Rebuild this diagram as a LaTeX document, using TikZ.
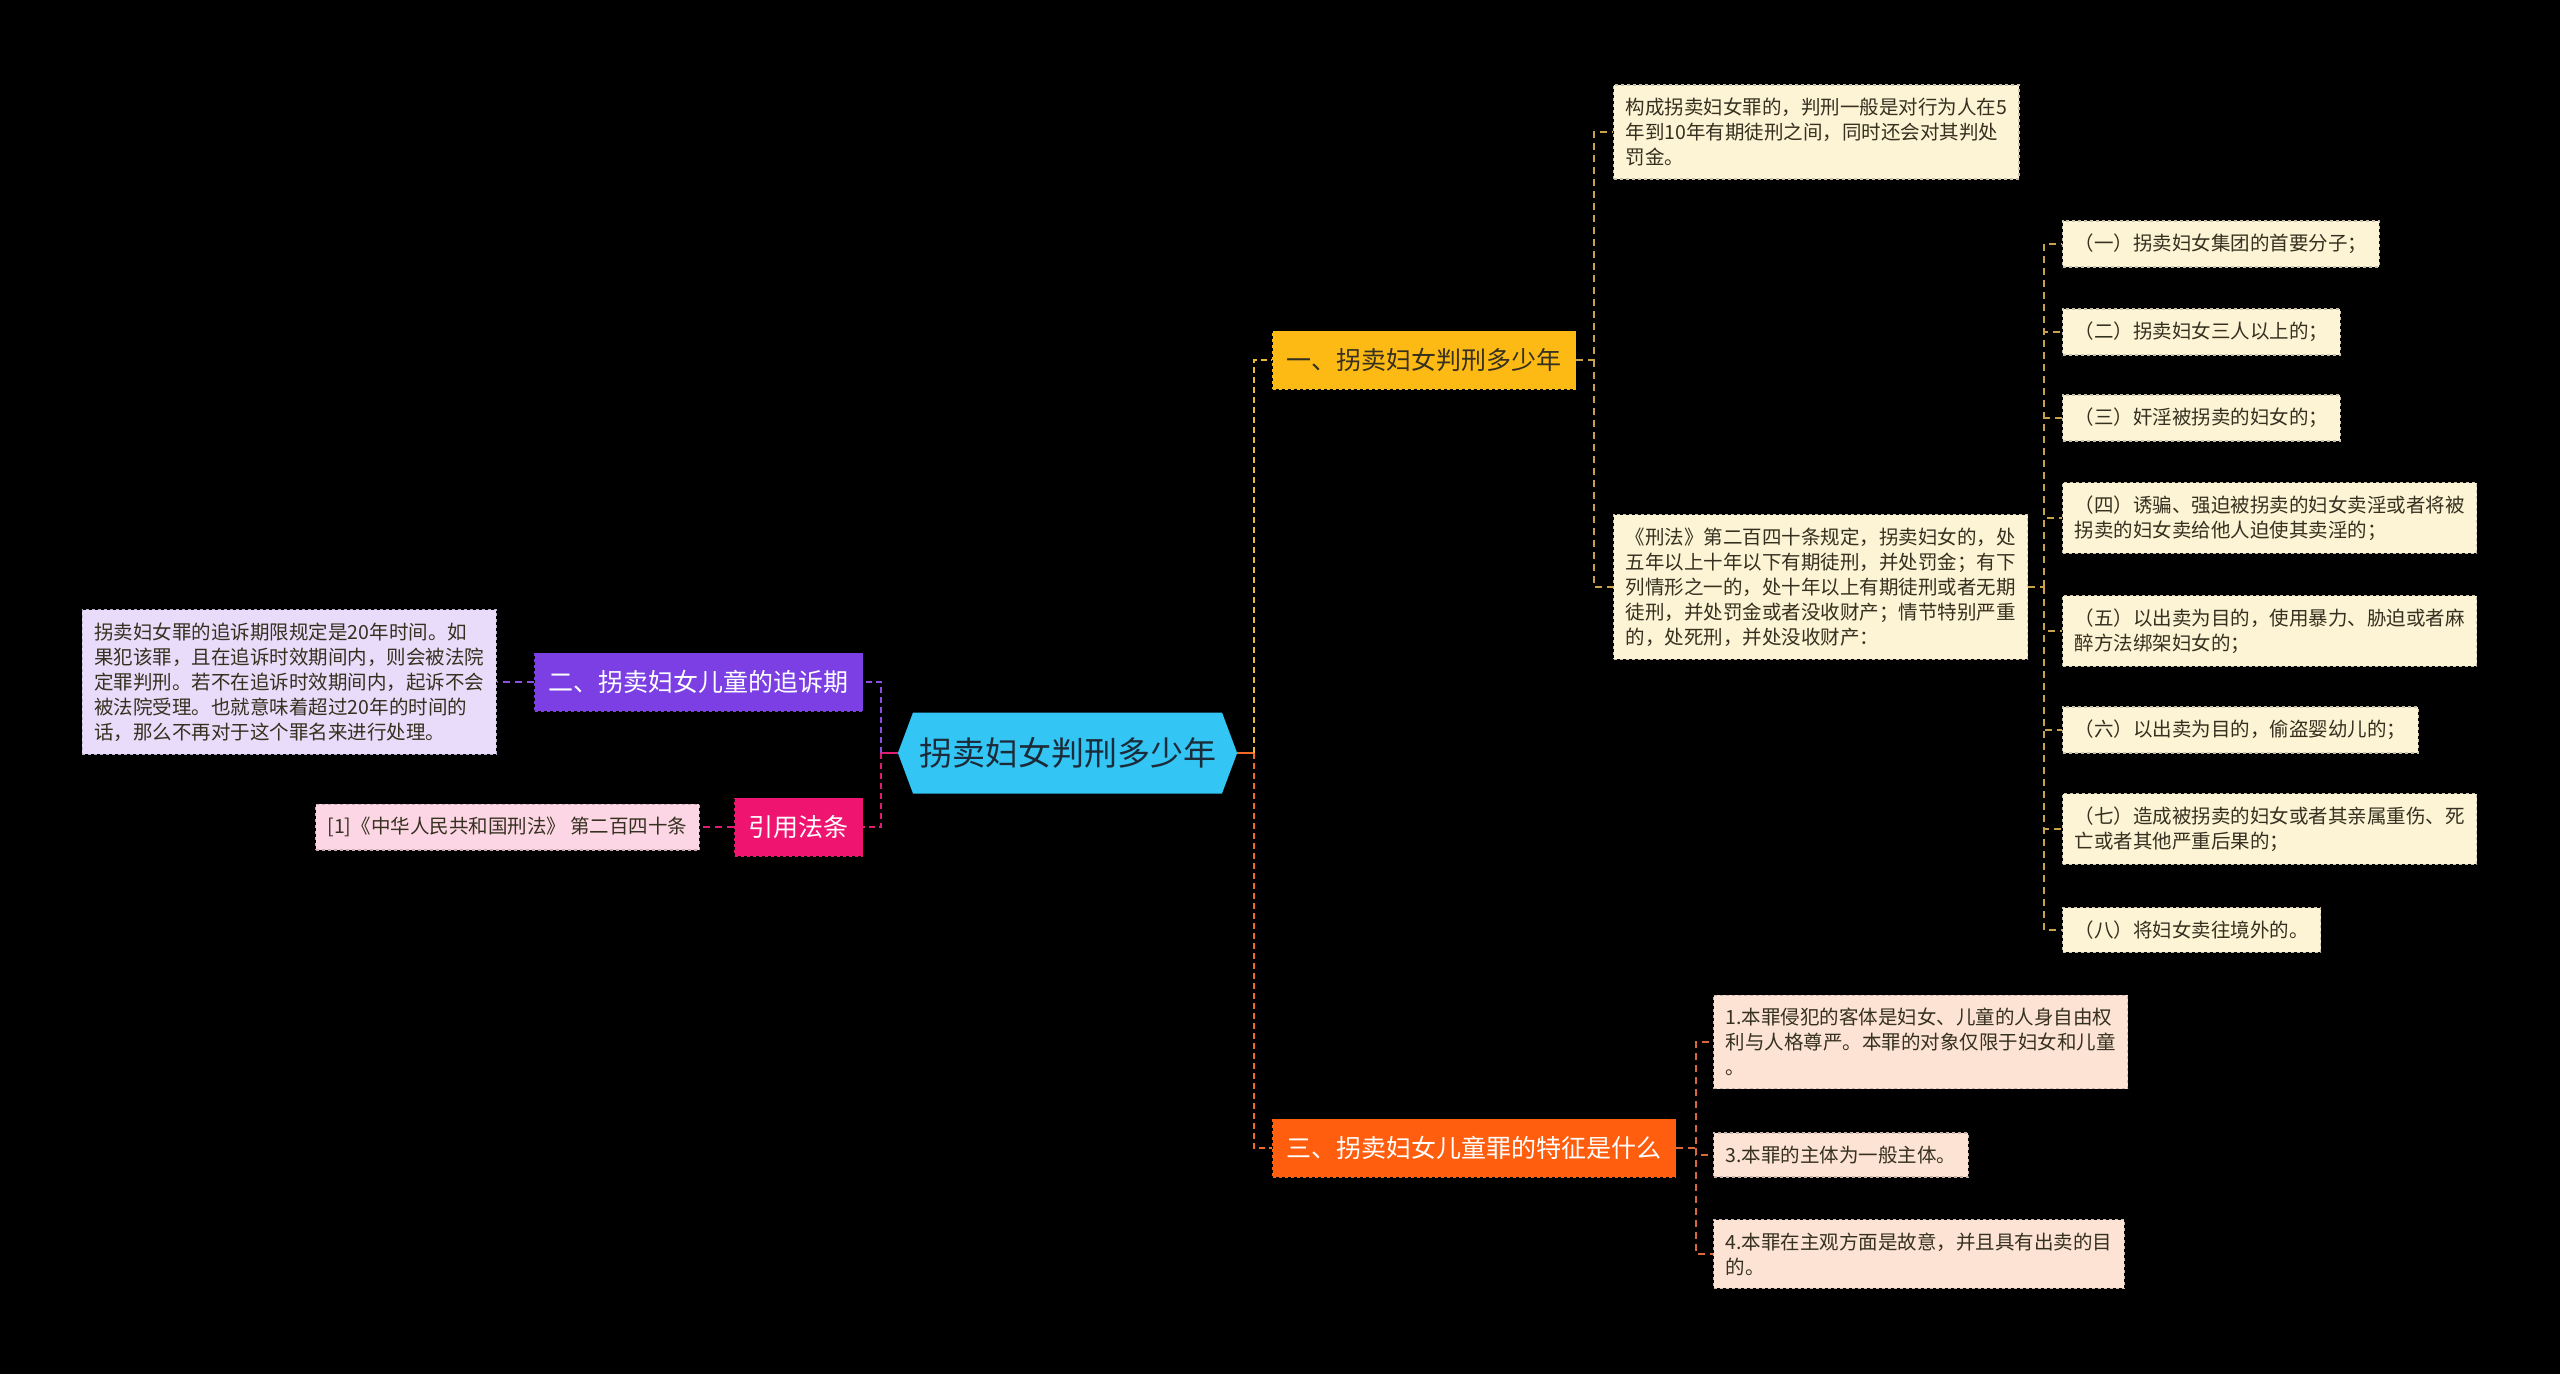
\documentclass[tikz,border=0pt]{standalone}
\usepackage{fontspec}
\setmainfont{Noto Sans CJK SC}
\usetikzlibrary{shapes.symbols}

\definecolor{rootblue}{HTML}{33C5F3}
\definecolor{roottext}{HTML}{1C2B39}
\definecolor{goldbr}{HTML}{FDBA14}
\definecolor{orangebr}{HTML}{FF5E0E}
\definecolor{purplebr}{HTML}{7B3FE4}
\definecolor{pinkbr}{HTML}{EE1470}
\definecolor{creamleaf}{HTML}{FDF3D5}
\definecolor{peachleaf}{HTML}{FDE3D4}
\definecolor{lavleaf}{HTML}{E9DCFA}
\definecolor{pinkleaf}{HTML}{FDD6E5}
\definecolor{leaftext}{HTML}{35301F}
\definecolor{goldline}{HTML}{EBBB36}
\definecolor{orangeline}{HTML}{F06A25}
\definecolor{tanline}{HTML}{C9A24A}
\definecolor{rustline}{HTML}{D9683A}
\definecolor{violetline}{HTML}{8B4FE6}
\definecolor{magline}{HTML}{DD1F72}

\begin{document}
\begin{tikzpicture}[x=1pt, y=-1pt,
  rootnode/.style={signal, signal to=west and east, signal pointer angle=139,
    fill=rootblue, text=roottext, minimum height=81pt, inner xsep=6pt,
    font=\fontsize{33}{40}\selectfont},
  branch/.style={fill=#1, draw=#1, dashed, line width=1pt, minimum height=58pt,
    inner xsep=14pt, inner ysep=0pt, font=\fontsize{25}{30}\selectfont},
  leaf/.style={fill=#1, draw=#1!80!black, dashed, line width=1.2pt, align=left,
    inner xsep=12pt, inner ysep=13pt, text=leaftext,
    font=\fontsize{19.5}{25}\selectfont},
  spine/.style={line width=2.5pt, dash pattern=on 6pt off 4pt},
  twig/.style={line width=1.8pt, dash pattern=on 7pt off 5pt},
]
  \fill[black] (0,0) rectangle (2560,1374);
  \useasboundingbox (0,0) rectangle (2560,1374);

  % centre
  \node[rootnode] (root) at (1067.5,753) {拐卖妇女判刑多少年};

  % branches
  \node[branch=goldbr, text=leaftext, anchor=west] (b1) at (1272,360) {一、拐卖妇女判刑多少年};
  \node[branch=orangebr, text=white, anchor=west] (b3) at (1272,1148) {三、拐卖妇女儿童罪的特征是什么};
  \node[branch=purplebr, text=white, anchor=east] (b2) at (863,682) {二、拐卖妇女儿童的追诉期};
  \node[branch=pinkbr, text=white, anchor=east] (cite) at (863,827) {引用法条};

  % branch 1 leaves
  \node[leaf=creamleaf, anchor=west] (l1a) at (1613,132)
    {构成拐卖妇女罪的，判刑一般是对行为人在5\\年到10年有期徒刑之间，同时还会对其判处\\罚金。};
  \node[leaf=creamleaf, anchor=west] (l1b) at (1613,587)
    {《刑法》第二百四十条规定，拐卖妇女的，处\\五年以上十年以下有期徒刑，并处罚金；有下\\列情形之一的，处十年以上有期徒刑或者无期\\徒刑，并处罚金或者没收财产；情节特别严重\\的，处死刑，并处没收财产：};

  % the eight cases
  \node[leaf=creamleaf, anchor=west] (i1) at (2062,244) {（一）拐卖妇女集团的首要分子；};
  \node[leaf=creamleaf, anchor=west] (i2) at (2062,332) {（二）拐卖妇女三人以上的；};
  \node[leaf=creamleaf, anchor=west] (i3) at (2062,418) {（三）奸淫被拐卖的妇女的；};
  \node[leaf=creamleaf, anchor=west] (i4) at (2062,518)
    {（四）诱骗、强迫被拐卖的妇女卖淫或者将被\\拐卖的妇女卖给他人迫使其卖淫的；};
  \node[leaf=creamleaf, anchor=west] (i5) at (2062,631)
    {（五）以出卖为目的，使用暴力、胁迫或者麻\\醉方法绑架妇女的；};
  \node[leaf=creamleaf, anchor=west] (i6) at (2062,730) {（六）以出卖为目的，偷盗婴幼儿的；};
  \node[leaf=creamleaf, anchor=west] (i7) at (2062,829)
    {（七）造成被拐卖的妇女或者其亲属重伤、死\\亡或者其他严重后果的；};
  \node[leaf=creamleaf, anchor=west] (i8) at (2062,930) {（八）将妇女卖往境外的。};

  % branch 3 leaves
  \node[leaf=peachleaf, anchor=west] (c1) at (1713,1042)
    {1.本罪侵犯的客体是妇女、儿童的人身自由权\\利与人格尊严。本罪的对象仅限于妇女和儿童\\。};
  \node[leaf=peachleaf, anchor=west] (c3) at (1713,1155) {3.本罪的主体为一般主体。};
  \node[leaf=peachleaf, anchor=west] (c4) at (1713,1254)
    {4.本罪在主观方面是故意，并且具有出卖的目\\的。};

  % left leaves
  \node[leaf=lavleaf, anchor=east] (b2c) at (497,682)
    {拐卖妇女罪的追诉期限规定是20年时间。如\\果犯该罪，且在追诉时效期间内，则会被法院\\定罪判刑。若不在追诉时效期间内，起诉不会\\被法院受理。也就意味着超过20年的时间的\\话，那么不再对于这个罪名来进行处理。};
  \node[leaf=pinkleaf, anchor=east] (citec) at (700,827) {[1]《中华人民共和国刑法》 第二百四十条};

  % joints
  \coordinate (rs) at (1254,753);
  \coordinate (ls) at (881,753);
  \coordinate (s1) at (1594,360);
  \coordinate (s2) at (2044,587);
  \coordinate (s3) at (1696,1148);

  % right side
  \draw[orangeline, line width=2.5pt] (root.east) -- (rs);
  \draw[spine, goldline] (rs) |- (b1.west);
  \draw[spine, orangeline] (rs) |- (b3.west);
  \draw[twig, tanline] (b1.east) -- (s1) |- (l1a.west);
  \draw[twig, tanline] (s1) |- (l1b.west);
  \draw[twig, tanline] (l1b.east) -- (s2);
  \foreach \k in {1,...,8}
    \draw[twig, tanline] (s2) |- (i\k.west);
  \draw[twig, rustline] (b3.east) -- (s3) |- (c1.west);
  \draw[twig, rustline] (s3) |- (c3.west);
  \draw[twig, rustline] (s3) |- (c4.west);

  % left side
  \draw[magline, line width=2.5pt] (root.west) -- (ls);
  \draw[spine, violetline] (ls) |- (b2.east);
  \draw[spine, magline] (ls) |- (cite.east);
  \draw[twig, violetline] (b2.west) -- (b2c.east);
  \draw[twig, magline] (cite.west) -- (citec.east);
\end{tikzpicture}
\end{document}
